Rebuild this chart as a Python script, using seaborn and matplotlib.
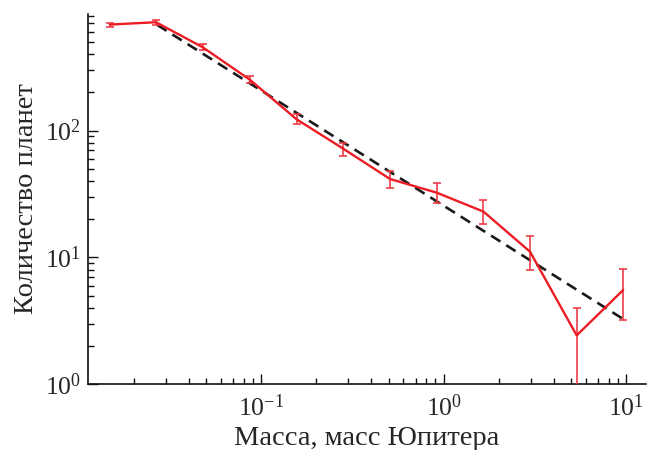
import numpy as np
import pandas as pd
import matplotlib
matplotlib.use("Agg")
import matplotlib.pyplot as plt
import seaborn as sns

# Data
mass = [0.0148, 0.0265, 0.0477, 0.0863, 0.156, 0.279, 0.507, 0.916, 1.65, 2.97, 5.35, 9.62]
count = [686, 716, 455, 253, 123, 72.6, 41.6, 32.4, 23.0, 11.1, 2.43, 5.54]
err_lo = [25, 30, 24, 14, 11, 10, 6.1, 5.6, 4.7, 3.2, 1.9, 2.33]
err_hi = [25, 30, 25, 17, 12.5, 8, 6.8, 6.1, 5.3, 3.7, 1.55, 2.53]

fit_mass = [0.0269, 9.62]
fit_count = [682, 3.27]

xlabel = "Масса, масс Юпитера"
ylabel = "Количество планет"

sns.set_theme(style="ticks")
plt.rcParams["font.family"] = ["Liberation Serif", "DejaVu Serif"]
plt.rcParams["mathtext.fontset"] = "custom"
plt.rcParams["mathtext.rm"] = "Liberation Serif"
plt.rcParams["mathtext.it"] = "Liberation Serif:italic"
plt.rcParams["mathtext.bf"] = "Liberation Serif:bold"

fig = plt.figure(figsize=(6.55, 4.5), dpi=100)
ax = fig.add_axes([0.134, 0.146, 0.852, 0.823])

red = "#ec1c24"
df = pd.DataFrame({"m": mass, "n": count})
dfit = pd.DataFrame({"m": fit_mass, "n": fit_count})

sns.lineplot(data=dfit, x="m", y="n", ax=ax, color="#1a1a1a", lw=1.9,
             dashes=False, linestyle=(0, (4.2, 2.6)), zorder=2)
ax.errorbar(mass, count, yerr=[err_lo, err_hi], fmt="none", ecolor="#ef3d48",
            elinewidth=1.2, capsize=3.2, capthick=1.2, zorder=3)
sns.lineplot(data=df, x="m", y="n", ax=ax, color=red, lw=1.7, zorder=4)

ax.set_xscale("log")
ax.set_yscale("log")
ax.set_xlim(0.0112, 12.8)
ax.set_ylim(1, 832)

ax.set_xlabel(xlabel, fontsize=20.5, labelpad=4)
ax.set_ylabel(ylabel, fontsize=20.5, labelpad=4)

ax.tick_params(axis="both", which="major", direction="in", length=7, width=1,
               labelsize=18.5, color="#111111")
ax.tick_params(axis="both", which="minor", direction="in", length=4.5, width=1,
               color="#111111")
ax.tick_params(axis="x", which="major", pad=7)
ax.tick_params(axis="y", which="major", pad=5)

for s in ["left", "bottom"]:
    ax.spines[s].set_linewidth(1.2)
    ax.spines[s].set_color("#111111")
sns.despine(ax=ax)

fig.savefig("out.png", dpi=100)
